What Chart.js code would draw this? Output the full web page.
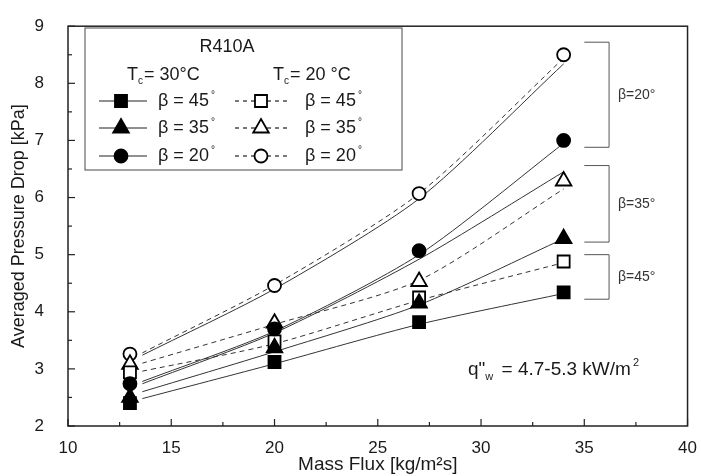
<!DOCTYPE html>
<html>
<head>
<meta charset="utf-8">
<script src="https://cdn.jsdelivr.net/npm/chart.js@4.4.1/dist/chart.umd.min.js"></script>
<style>
  html, body { margin: 0; padding: 0; background: #fff; }
  #wrap { width: 701px; height: 476px; }
</style>
</head>
<body>
<div id="wrap"><canvas id="grafico" width="701" height="476"></canvas></div>
<script>
// valores (fluxo de massa x queda de pressão)
const massFlux = [13, 20, 27, 34];
const tc30_b45 = [2.40, 3.12, 3.82, 4.34];
const tc30_b35 = [2.50, 3.37, 4.15, 5.28];
const tc30_b20 = [2.74, 3.70, 5.07, 7.00];
const tc20_b45 = [2.94, 3.48, 4.25, 4.88];
const tc20_b35 = [3.08, 3.80, 4.53, 6.29];
const tc20_b20 = [3.26, 4.46, 6.07, 8.50];

// curvas de ajuste
const fitX = [13.6, 20, 27, 34];
const fit30_b45 = [2.48, 3.09, 3.78, 4.32];
const fit30_b35 = [2.60, 3.30, 4.12, 5.28];
const fit30_b20 = [2.78, 3.66, 5.00, 6.95];
const fit30_extra = [2.74, 3.63, 4.92, 6.45];
const fit30_top = [3.24, 4.40, 5.98, 8.34];
const fit20_b45 = [2.96, 3.44, 4.20, 4.86];
const fit20_b35 = [3.10, 3.78, 4.55, 6.15];
const fit20_b20 = [3.28, 4.47, 6.07, 8.44];

const xTicks = [10, 15, 20, 25, 30, 35, 40];
const yTicks = [2, 3, 4, 5, 6, 7, 8, 9];

// colchetes à direita: [y topo, y base, rótulo]
const brackets = [
  [8.72, 6.88, 'β=20°'],
  [6.56, 5.22, 'β=35°'],
  [5.00, 4.22, 'β=45°']
];

const FONT = "'Liberation Sans', Arial, sans-serif";
const INK = '#1a1a1a';

function pts(xs, ys) {
  return xs.map((x, i) => ({ x: x, y: ys[i] }));
}

function marcador(label, ys, style, filled, radius) {
  return {
    label: label,
    data: pts(massFlux, ys),
    showLine: false,
    pointStyle: style,
    pointRadius: radius,
    pointBackgroundColor: filled ? '#000' : '#fff',
    pointBorderColor: '#000',
    pointBorderWidth: 1.8,
    order: 0
  };
}

function ajuste(ys, dashed) {
  return {
    label: '',
    data: pts(fitX, ys),
    borderColor: '#333',
    borderWidth: 1,
    borderDash: dashed ? [5, 4] : [],
    pointRadius: 0,
    tension: 0.25,
    fill: false,
    order: 1
  };
}

// desenha um marcador simples (legenda)
function desenhaPonto(ctx, style, filled, x, y, r) {
  ctx.save();
  ctx.beginPath();
  if (style === 'rect') {
    const s = r / Math.SQRT2;
    ctx.rect(x - s, y - s, 2 * s, 2 * s);
  } else if (style === 'triangle') {
    const w = r * 0.866;
    ctx.moveTo(x, y - r);
    ctx.lineTo(x + w, y + r / 2);
    ctx.lineTo(x - w, y + r / 2);
    ctx.closePath();
  } else {
    ctx.arc(x, y, r, 0, Math.PI * 2);
  }
  ctx.fillStyle = filled ? '#000' : '#fff';
  ctx.fill();
  ctx.lineWidth = 1.8;
  ctx.strokeStyle = '#000';
  ctx.stroke();
  ctx.restore();
}

const extras = {
  id: 'extras',
  afterDraw(chart) {
    const ctx = chart.ctx;
    const xs = chart.scales.x, ys = chart.scales.y;
    const a = chart.chartArea;
    ctx.save();

    // moldura
    ctx.strokeStyle = '#222';
    ctx.lineWidth = 1.5;
    ctx.strokeRect(a.left, a.top, a.right - a.left, a.bottom - a.top);

    // ticks para dentro
    ctx.lineWidth = 1.2;
    for (let v = 10; v <= 40; v += 2.5) {
      const p = xs.getPixelForValue(v);
      const len = (v % 5 === 0) ? 7 : 4;
      ctx.beginPath();
      ctx.moveTo(p, a.bottom); ctx.lineTo(p, a.bottom - len);
      ctx.stroke();
    }
    for (let v = 2; v <= 9; v += 0.5) {
      const p = ys.getPixelForValue(v);
      const len = (v % 1 === 0) ? 7 : 4;
      ctx.beginPath();
      ctx.moveTo(a.left, p); ctx.lineTo(a.left + len, p);
      ctx.stroke();
    }

    // colchetes
    ctx.strokeStyle = '#555';
    ctx.lineWidth = 1;
    ctx.fillStyle = '#333';
    ctx.font = '14px ' + FONT;
    ctx.textBaseline = 'middle';
    brackets.forEach(b => {
      const x0 = xs.getPixelForValue(35.0), x1 = xs.getPixelForValue(36.2);
      const y0 = ys.getPixelForValue(b[0]), y1 = ys.getPixelForValue(b[1]);
      ctx.beginPath();
      ctx.moveTo(x0, y0); ctx.lineTo(x1, y0); ctx.lineTo(x1, y1); ctx.lineTo(x0, y1);
      ctx.stroke();
      ctx.fillText(b[2], x1 + 9, (y0 + y1) / 2);
    });

    // texto do fluxo de calor
    ctx.fillStyle = INK;
    ctx.textBaseline = 'alphabetic';
    let x = 468, y = 375;
    ctx.font = '19px ' + FONT;
    ctx.fillText('q"', x, y); x += ctx.measureText('q"').width;
    ctx.font = '11px ' + FONT;
    ctx.fillText('w', x, y + 5); x += ctx.measureText('w').width + 3;
    ctx.font = '19px ' + FONT;
    const t = ' = 4.7-5.3 kW/m';
    ctx.fillText(t, x, y); x += ctx.measureText(t).width;
    ctx.font = '11px ' + FONT;
    ctx.fillText('2', x + 2, y - 9);

    // legenda
    ctx.strokeStyle = '#666';
    ctx.lineWidth = 1.2;
    ctx.strokeRect(85, 28, 317, 142);
    ctx.fillStyle = INK;
    ctx.font = '18px ' + FONT;
    ctx.textAlign = 'center';
    ctx.fillText('R410A', 227, 52);
    ctx.textAlign = 'left';
    function cabecalho(x, txt) {
      ctx.font = '18px ' + FONT;
      ctx.fillText('T', x, 80);
      const w = ctx.measureText('T').width;
      ctx.font = '10px ' + FONT;
      ctx.fillText('c', x + w, 84);
      ctx.font = '18px ' + FONT;
      ctx.fillText(txt, x + w + 6, 80);
    }
    cabecalho(127, '= 30°C');
    cabecalho(273, '= 20 °C');
    const linhas = [
      ['rect', '45', 8.5, 101],
      ['triangle', '35', 9, 128],
      ['circle', '20', 6.5, 156]
    ];
    linhas.forEach(l => {
      const yy = l[3];
      ctx.strokeStyle = '#222';
      ctx.lineWidth = 1.2;
      ctx.setLineDash([]);
      ctx.beginPath();
      ctx.moveTo(99, yy); ctx.lineTo(147, yy);
      ctx.stroke();
      desenhaPonto(ctx, l[0], true, 121, yy, l[2]);
      ctx.setLineDash([4, 4]);
      ctx.beginPath();
      ctx.moveTo(235, yy); ctx.lineTo(287, yy);
      ctx.stroke();
      ctx.setLineDash([]);
      desenhaPonto(ctx, l[0], false, 261, yy, l[2]);
      ctx.fillStyle = INK;
      ctx.textBaseline = 'middle';
      ctx.font = '18px ' + FONT;
      ctx.fillText('β = ' + l[1], 158, yy);
      ctx.fillText('β = ' + l[1], 305, yy);
      const w1 = ctx.measureText('β = ' + l[1]).width;
      ctx.font = '10px ' + FONT;
      ctx.fillText('°', 158 + w1 + 2, yy - 6);
      ctx.fillText('°', 305 + w1 + 2, yy - 6);
    });
    ctx.restore();
  }
};

const ctx = document.getElementById('grafico').getContext('2d');
window.grafico = new Chart(ctx, {
  type: 'line',
  data: {
    datasets: [
      marcador('Tc=30 β=45', tc30_b45, 'rect', true, 8.5),
      marcador('Tc=30 β=35', tc30_b35, 'triangle', true, 9),
      marcador('Tc=30 β=20', tc30_b20, 'circle', true, 6.5),
      marcador('Tc=20 β=45', tc20_b45, 'rect', false, 8.5),
      marcador('Tc=20 β=35', tc20_b35, 'triangle', false, 9),
      marcador('Tc=20 β=20', tc20_b20, 'circle', false, 6.5),
      ajuste(fit30_b45, false),
      ajuste(fit30_b35, false),
      ajuste(fit30_b20, false),
      ajuste(fit30_extra, false),
      ajuste(fit30_top, false),
      ajuste(fit20_b45, true),
      ajuste(fit20_b35, true),
      ajuste(fit20_b20, true)
    ]
  },
  options: {
    responsive: false,
    animation: false,
    layout: { padding: { top: 22, right: 11, left: 0, bottom: 0 } },
    plugins: { legend: { display: false }, tooltip: { enabled: false } },
    scales: {
      x: { // horizontal
        type: 'linear',
        min: 10, max: 40,
        afterBuildTicks: s => { s.ticks = xTicks.map(v => ({ value: v })); },
        afterFit: s => { s.height = 50; },
        grid: { display: false },
        border: { display: false },
        ticks: { padding: 4, color: INK, font: { family: FONT, size: 17 }, maxRotation: 0 },
        title: { display: true, text: 'Mass Flux [kg/m²s]', color: INK, font: { family: FONT, size: 19 }, padding: { top: 0, bottom: 0 } }
      },
      y: { // vertical
        min: 2, max: 9,
        afterBuildTicks: s => { s.ticks = yTicks.map(v => ({ value: v })); },
        afterFit: s => { s.width = 68; },
        grid: { display: false },
        border: { display: false },
        ticks: { padding: 16, color: INK, font: { family: FONT, size: 17 } },
        title: { display: true, text: 'Averaged Pressure Drop [kPa]', color: INK, font: { family: FONT, size: 18 }, padding: { top: 8, bottom: 0 } }
      }
    }
  },
  plugins: [extras]
});
</script>
</body>
</html>
